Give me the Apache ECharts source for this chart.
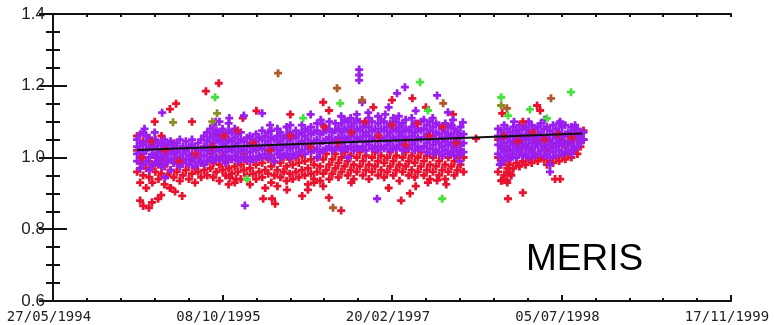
<!DOCTYPE html>
<html><head><meta charset="utf-8">
<script src="https://cdn.jsdelivr.net/npm/echarts@6/dist/echarts.min.js"></script>
<style>html,body{margin:0;padding:0;background:#fff}#c{width:775px;height:325px}</style>
</head><body><div id="c"></div>
<script>
// x values: days since 27/05/1994
const tickLabels = ['27/05/1994','08/10/1995','20/02/1997','05/07/1998','17/11/1999'];
const yTicks = [0.6, 0.8, 1.0, 1.2, 1.4];

// columns: [day, value, value, ...]
const purpleCols = [
[248,0.99,1.01,1.03,1.05],[257,0.97,1.00,1.02,1.04,1.065],[266,0.98,1.01,1.035,1.07],[275,0.99,1.02,1.045,1.06],
[284,0.965,1.00,1.03,1.055],[293,0.98,1.01,1.025,1.045],[302,0.985,1.005,1.03,1.05],[311,0.99,1.015,1.04],
[320,0.975,1.00,1.02,1.04],[329,0.98,1.005,1.03,1.05],[338,0.99,1.01,1.035],[347,0.965,0.995,1.02,1.045],
[356,0.985,1.01,1.03],[365,0.99,1.015,1.04],[374,0.975,1.00,1.025,1.05],[383,0.985,1.01,1.03],
[392,0.995,1.02,1.045],[401,0.98,1.005,1.03],[410,0.99,1.01,1.035,1.05],[419,0.975,1.00,1.025],
[428,0.985,1.01,1.04],[437,0.99,1.02,1.05],[446,0.98,1.005,1.03,1.06],[455,0.99,1.02,1.045,1.07],
[464,1.00,1.03,1.055,1.08],[473,0.99,1.015,1.04,1.065,1.09],[482,1.00,1.025,1.05,1.075],[491,0.995,1.02,1.045,1.07,1.10],
[500,1.00,1.03,1.055,1.08],[509,0.985,1.015,1.04,1.065],[518,1.00,1.025,1.05,1.075,1.095],[527,0.995,1.02,1.045,1.07],
[536,1.005,1.03,1.055,1.08],[545,0.99,1.015,1.04,1.065],[554,1.00,1.025,1.05,1.07],[563,0.995,1.02,1.045],
[572,1.00,1.03,1.055],[581,0.99,1.015,1.04,1.06],[590,1.00,1.025,1.05],[599,0.995,1.02,1.045,1.065],
[608,1.005,1.03,1.055],[617,1.00,1.025,1.05,1.075],[626,1.01,1.035,1.06],[635,1.00,1.02,1.045,1.07],
[644,1.005,1.03,1.055,1.075],[653,0.99,1.025,1.05],[662,1.01,1.035,1.06,1.08],[671,1.00,1.02,1.045,1.07],
[680,1.005,1.03,1.055],[689,1.01,1.035,1.06,1.085],[698,1.00,1.025,1.05,1.07],[707,1.01,1.035,1.06],
[716,1.005,1.03,1.055,1.075],[725,1.015,1.04,1.065],[734,1.02,1.045,1.07,1.09],[743,1.01,1.035,1.06,1.08],
[752,1.025,1.05,1.075],[761,1.015,1.04,1.065,1.085],[770,1.02,1.045,1.07],[779,1.025,1.05,1.075,1.095],
[788,1.015,1.04,1.065],[797,1.02,1.045,1.07,1.09],[806,1.025,1.05,1.075],[815,1.03,1.055,1.08,1.10],
[824,1.02,1.045,1.07],[833,1.025,1.05,1.075,1.095],[842,1.03,1.055,1.08],[851,1.02,1.045,1.07,1.095],
[860,1.03,1.055,1.08,1.105],[869,1.025,1.05,1.075,1.10],[878,1.03,1.06,1.085,1.11],[887,1.02,1.045,1.07,1.095],
[896,1.03,1.055,1.08,1.105,1.12],[905,1.025,1.05,1.075,1.10],[914,1.03,1.06,1.085],[923,1.02,1.045,1.07,1.095],
[932,1.035,1.06,1.085,1.11],[941,1.025,1.05,1.075,1.10],[950,1.03,1.055,1.08],[959,1.02,1.045,1.07,1.095,1.115],
[968,1.03,1.055,1.08,1.105],[977,1.025,1.05,1.075,1.10],[986,1.035,1.06,1.085],[995,1.02,1.045,1.07,1.095],
[1004,1.03,1.055,1.08,1.11],[1013,1.025,1.05,1.075,1.10],[1022,1.035,1.06,1.085],[1031,1.02,1.045,1.07,1.095],
[1040,1.03,1.055,1.08,1.105],[1049,1.025,1.05,1.075],[1058,1.035,1.06,1.085,1.11],[1067,1.02,1.045,1.07,1.095],
[1076,1.03,1.055,1.08],[1085,1.025,1.05,1.075,1.10],[1094,1.03,1.055,1.08,1.105],[1103,1.015,1.04,1.065,1.09],
[1112,1.025,1.05,1.075,1.10],[1121,1.01,1.035,1.06,1.085],[1130,1.02,1.045,1.07,1.095],[1139,1.015,1.04,1.065,1.09],
[1148,1.005,1.03,1.055,1.08],[1157,1.02,1.045,1.07,1.095],[1166,1.01,1.035,1.06,1.085],[1175,1.015,1.04,1.065,1.09],
[1184,1.005,1.03,1.055,1.08],[1193,1.02,1.045,1.07],[1202,1.01,1.035,1.06,1.085],[1211,1.015,1.04,1.065],
[1313,1.01,1.035,1.06,1.08],[1322,1.00,1.025,1.05,1.075],[1331,0.99,1.015,1.04,1.065,1.09],[1340,1.005,1.03,1.055,1.08],
[1349,0.995,1.02,1.045,1.07],[1358,1.01,1.035,1.06,1.085],[1367,1.00,1.025,1.05,1.075],[1376,1.015,1.04,1.065,1.09],
[1385,1.005,1.03,1.055,1.08],[1394,1.01,1.035,1.06,1.085],[1403,1.00,1.025,1.05,1.075,1.10],[1412,1.015,1.04,1.065,1.09],
[1421,1.005,1.03,1.055,1.08],[1430,1.01,1.035,1.06,1.085],[1439,1.02,1.045,1.07,1.095],[1448,1.005,1.03,1.055,1.08],
[1457,1.01,1.035,1.06,1.085],[1466,0.96,0.98,1.00,1.025,1.05,1.075],[1475,1.015,1.04,1.065,1.09],[1484,1.005,1.03,1.055,1.08],
[1493,1.02,1.045,1.07,1.095],[1502,1.01,1.035,1.06,1.085],[1511,1.015,1.04,1.065,1.09],[1520,1.02,1.045,1.07],
[1529,1.01,1.035,1.06,1.085],[1538,1.025,1.05,1.075],[1547,1.03,1.055,1.08],[1556,1.04,1.065],[1565,1.05,1.07]
];
const purpleOut = [[903,1.245],[903,1.23],[903,1.215],[1038,1.196],[1015,1.179],[1133,1.173],[912,1.154],
[322,1.125],[563,1.117],[617,1.123],[1165,1.126],[1209,1.098],[330,0.944],[566,0.866],[956,0.885],[1496,1.10],
[1318,0.98],[1322,0.99],[760,1.12],[990,1.14],[1070,1.13],
[270,1.08],[300,1.07],[480,1.10],[520,1.11],[640,1.09],[700,1.09],[790,1.105],[850,1.115],[930,1.125],
[980,1.12],[1020,1.115],[1120,1.11],[1180,1.105],[1360,1.10],[1450,1.105],[1540,1.09],[1200,0.99],[870,1.0],[780,1.0]];

const redCols = [
[248,0.96,1.02,1.06],[257,0.93,0.985],[266,0.95,1.00,1.045],[275,0.915,0.97],[284,0.945,0.99],[293,0.93,0.975,1.03],
[302,0.96,1.00],[311,0.94,0.98],[320,0.955,0.995,1.06],[329,0.925,0.975],[338,0.95,0.99],[347,0.915,0.965],
[356,0.945,0.985,1.04],[365,0.96,1.00],[374,0.935,0.975],[383,0.95,0.99],[392,0.965,1.02],[401,0.94,0.98],
[410,0.955,0.995],[419,0.93,0.97],[428,0.96,1.00],[437,0.945,0.985],[446,0.965,1.03],[455,0.95,0.99],
[464,0.97,1.01],[473,0.945,0.985],[482,0.96,1.00,1.06],[491,0.935,0.98],[500,0.965,1.005],[509,0.95,0.99],
[518,0.925,0.97],[527,0.955,0.995],[536,0.93,0.975],[545,0.96,1.00],[554,0.94,0.98],[563,0.965,1.01],
[572,0.95,0.99],[581,0.925,0.97],[590,0.955,0.995],[599,0.94,0.98],[608,0.96,1.00],[617,0.945,0.985],
[626,0.915,0.965],[635,0.955,0.995],[644,0.93,0.975],[653,0.95,0.99],[662,0.92,0.965],[671,0.945,0.985],
[680,0.96,1.00],[689,0.935,0.975],[698,0.955,0.995],[707,0.94,0.98],[716,0.96,1.00],[725,0.945,0.985],
[734,0.965,1.005],[743,0.95,0.99],[752,0.925,0.97],[761,0.955,0.995],[770,0.94,0.98],[779,0.96,1.00],
[788,0.935,0.975],[797,0.955,0.995],[806,0.965,1.01],[815,0.94,0.98],[824,0.955,0.995],[833,0.97,1.01],
[842,0.945,0.985],[851,0.96,1.00],[860,0.975,1.015],[869,0.95,0.99],[878,0.965,1.005],[887,0.94,0.98],
[896,0.96,1.00],[905,0.975,1.015],[914,0.95,0.99],[923,0.965,1.005],[932,0.94,0.98],[941,0.96,1.00],
[950,0.975,1.015],[959,0.95,0.99],[968,0.965,1.005],[977,0.945,0.985],[986,0.96,1.00],[995,0.975,1.015],
[1004,0.95,0.99],[1013,0.965,1.005],[1022,0.935,0.98],[1031,0.96,1.00],[1040,0.975,1.015],[1049,0.95,0.99],
[1058,0.965,1.005],[1067,0.945,0.985],[1076,0.96,1.00],[1085,0.975,1.015],[1094,0.95,0.99],[1103,0.965,1.005],
[1112,0.94,0.98],[1121,0.96,1.00],[1130,0.975,1.015],[1139,0.95,0.99],[1148,0.965,1.005],[1157,0.94,0.98],
[1166,0.96,1.00],[1175,0.975,1.015],[1184,0.95,0.99],[1193,0.965,1.005],[1202,0.98,1.02],[1211,0.96,1.00],
[1313,0.96,1.00,1.05],[1322,0.935,0.98,1.03],[1331,0.95,0.99],[1340,0.93,0.97,1.02],[1349,0.955,1.00],
[1358,0.97,1.04],[1367,0.985,1.03],[1376,0.975,1.02],[1385,0.99,1.05],[1394,0.98,1.03],[1403,0.995,1.06],
[1412,0.985,1.02],[1421,1.00,1.05],[1430,0.99,1.04],[1439,1.00,1.06],[1448,0.995,1.03],[1457,0.98,1.02],
[1466,0.99,1.045],[1475,0.985,1.03],[1484,1.00,1.06],[1493,0.99,1.04],[1502,1.005,1.05],[1511,0.995,1.03],
[1520,1.01,1.06],[1529,1.00,1.04],[1538,1.02,1.06],[1547,1.01,1.05],[1556,1.03,1.07],[1565,1.05,1.075]
];
const redOut = [[257,0.88],[266,0.865],[283,0.86],[292,0.875],[310,0.885],[319,0.895],[381,0.893],[345,0.915],
[360,0.905],[522,0.944],[540,0.94],[620,0.885],[646,0.885],[655,0.871],[690,0.91],[735,0.893],[752,0.91],
[814,0.888],[850,0.852],[770,0.93],[797,0.92],[1027,0.88],[1053,0.9],[1133,0.936],[1106,0.93],[1160,0.925],
[880,0.93],[990,0.915],[1070,0.92],[489,1.207],[451,1.185],[363,1.15],[345,1.135],[300,1.10],[410,1.10],
[797,1.154],[814,1.131],[945,1.14],[1000,1.16],[1060,1.165],[1100,1.14],[1180,1.12],[700,1.12],[600,1.13],
[560,1.11],[1248,1.053],[1325,0.936],[1339,0.936],[1342,0.885],[1386,0.902],[1481,0.94],[1496,0.94],
[1428,1.145],[1437,1.131],[1386,1.10],[1325,1.123],[1339,0.96],[1345,0.98],[1352,0.95]];
// red crosses lying over the purple band
const redMix = [[262,1.00],[290,1.045],[330,1.02],[372,0.99],[420,1.01],[470,1.03],[505,1.06],[545,1.075],
[590,1.04],[640,1.02],[700,1.06],[760,1.03],[800,1.085],[840,1.04],[880,1.07],[920,1.10],[960,1.06],[1000,1.09],
[1040,1.035],[1075,1.095],[1110,1.06],[1150,1.085],[1190,1.04],[1330,1.06],[1370,1.045],[1415,1.07],[1450,1.05],
[1490,1.065],[1530,1.055]];

const greenPts = [[478,1.168],[572,0.94],[738,1.11],[847,1.151],[1083,1.21],[1148,0.885],[1106,1.131],
[1322,1.168],[1342,1.117],[1407,1.134],[1528,1.182],[1457,1.109]];
const brownPts = [[664,1.235],[838,1.193],[826,0.86],[1469,1.165],[1339,1.137],[1151,1.151],[912,1.16]];
const olivePts = [[354,1.098],[484,1.123],[470,1.10],[1322,1.145]];

const trendDays = [248, 1561];
const trendVals = [1.021, 1.067];

function expand(cols){ const out=[]; cols.forEach(c=>{ for(let i=1;i<c.length;i++) out.push([c[0],c[i]]); }); return out; }

const plus = 'path://M2.6,0H5.4V2.6H8V5.4H5.4V8H2.6V5.4H0V2.6H2.6Z';
function sc(data, color){ return {type:'scatter', data, symbol:plus, symbolSize:8, itemStyle:{color, opacity:1}, silent:true, xAxisIndex:0, yAxisIndex:0}; }

const chart = echarts.init(document.getElementById('c'), null, {renderer:'canvas'});
const axisLine = {show:true, lineStyle:{color:'#111', width:2}};
const xBase = {type:'value', min:0, max:2000, interval:500, splitLine:{show:false}, axisLine};
const yBase = {type:'value', min:0.6, max:1.4, interval:0.2, splitLine:{show:false}, axisLine};
chart.setOption({
  animation:false,
  grid:{left:53, right:44, top:14, bottom:24},
  xAxis:[
    Object.assign({}, xBase, {position:'bottom',
      axisTick:{show:true, inside:true, length:6, lineStyle:{color:'#111', width:2}},
      minorTick:{show:true, splitNumber:5, length:3, lineStyle:{color:'#111', width:2}},
      axisLabel:{show:true, margin:9, color:'#222', fontFamily:'DejaVu Sans Mono', fontSize:14, padding:[0,8,0,0],
        formatter:v=>tickLabels[Math.round(v/500)]}}),
    Object.assign({}, xBase, {position:'top',
      axisTick:{show:true, inside:true, length:3, lineStyle:{color:'#111', width:2}},
      minorTick:{show:true, splitNumber:5, length:3, lineStyle:{color:'#111', width:2}},
      axisLabel:{show:false}})
  ],
  yAxis:[
    Object.assign({}, yBase, {position:'left',
      axisTick:{show:true, inside:true, length:14, lineStyle:{color:'#111', width:2}},
      minorTick:{show:true, splitNumber:4, length:7, lineStyle:{color:'#111', width:2}},
      axisLabel:{show:true, margin:8, color:'#222', fontFamily:'Liberation Sans', fontSize:17,
        formatter:v=>{const t=yTicks.find(y=>Math.abs(y-v)<1e-6); return t===undefined?'':t.toFixed(1);}}}),
    Object.assign({}, yBase, {position:'right',
      axisTick:{show:true, inside:true, length:14, lineStyle:{color:'#111', width:2}},
      minorTick:{show:true, splitNumber:4, length:7, lineStyle:{color:'#111', width:2}},
      axisLabel:{show:false}})
  ],
  series:[
    sc(expand(redCols), '#e8122e'),
    sc(expand(purpleCols), '#9a1ef0'),
    sc(redOut, '#e8122e'),
    sc(purpleOut, '#9a1ef0'),
    sc(redMix, '#e01440'),
    sc(brownPts, '#b0582c'),
    sc(olivePts, '#8c8c24'),
    sc(greenPts, '#46e03c'),
    {type:'line', data:trendDays.map((d,i)=>[d,trendVals[i]]), symbol:'none', lineStyle:{color:'#111', width:2}, silent:true}
  ],
  graphic:[{type:'text', left:526, top:241, style:{text:'MERIS', font:'37px "Liberation Sans"', fill:'#000'}}]
});
</script></body></html>
